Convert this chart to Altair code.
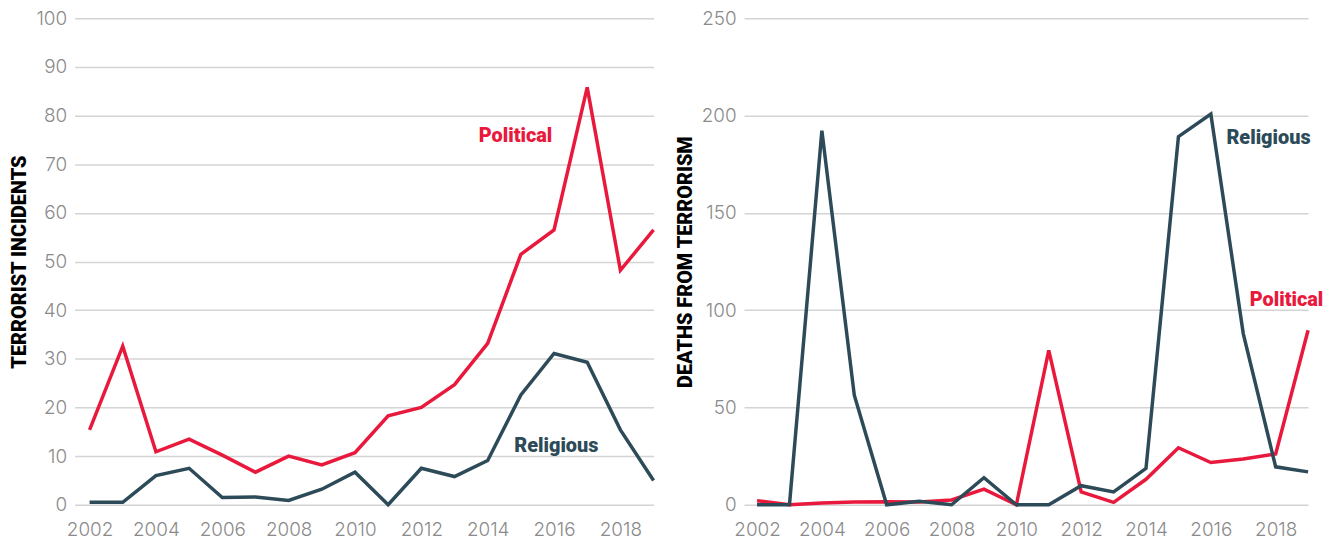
import altair as alt
import pandas as pd

years = list(range(2002, 2020))

incidents_political = [15.4, 32.6, 10.9, 13.5, 10.2, 6.7, 10.0, 8.2, 10.7, 18.3,
                       20.0, 24.7, 33.2, 51.5, 56.5, 85.8, 48.2, 56.5]
incidents_religious = [0.5, 0.5, 6.0, 7.5, 1.5, 1.6, 0.9, 3.2, 6.7, 0.0,
                       7.5, 5.8, 9.1, 22.6, 31.1, 29.3, 15.4, 5.0]

deaths_political = [2.1, 0.0, 0.9, 1.4, 1.6, 1.4, 2.5, 8.0, 0.0, 79.4,
                    6.6, 1.2, 13.1, 29.3, 21.7, 23.5, 26.1, 89.7]
deaths_religious = [0.0, 0.0, 192.3, 56.3, 0.0, 1.8, 0.0, 13.9, 0.0, 0.0,
                    9.8, 6.6, 18.7, 189.2, 200.8, 88.0, 19.5, 16.9]

series_names = ["Political", "Religious"]
series_colors = ["#E8193C", "#2C4A58"]

# label anchor points (left edge of text) in data units
left_labels = {"label": ["Political", "Religious"], "year": [2013.73, 2014.8], "value": [75.9, 12.1]}
right_labels = {"label": ["Religious", "Political"], "year": [2016.48, 2017.2], "value": [188.5, 105.3]}

LABEL_GREY = "#8A8A8A"


def panel(pol, rel, ymax, ystep, ytitle, xdomain, width, labels, title_pad):
    df = pd.DataFrame({
        "year": years * 2,
        "value": pol + rel,
        "series": ["Political"] * len(years) + ["Religious"] * len(years),
    })
    x = alt.X("year:Q",
              scale=alt.Scale(domain=xdomain, nice=False, zero=False),
              axis=alt.Axis(values=list(range(2002, 2019, 2)), format="d", grid=False,
                            domain=False, ticks=False, labelPadding=16, labelFontSize=19,
                            labelColor=LABEL_GREY, labelFont="Inter", labelFontWeight=300,
                            labelFlush=False, title=None))
    y = alt.Y("value:Q",
              scale=alt.Scale(domain=[0, ymax], nice=False),
              axis=alt.Axis(values=list(range(0, ymax + 1, ystep)), grid=True, domain=False,
                            ticks=False, labelPadding=8, labelFontSize=19,
                            labelColor=LABEL_GREY, labelFont="Inter", labelFontWeight=300,
                            gridColor="#D4D4D4", gridWidth=1.5,
                            title=ytitle, titleFont="Roboto", titleFontWeight=900,
                            titleFontSize=20, titleColor="#000000", titlePadding=title_pad))
    color = alt.Color("series:N", scale=alt.Scale(domain=series_names, range=series_colors),
                      legend=None)
    lines = alt.Chart(df).mark_line(strokeWidth=3.5, strokeJoin="miter").encode(
        x=x, y=y, color=color)

    ldf = pd.DataFrame(labels)
    ldf["series"] = ldf["label"]
    text = alt.Chart(ldf).mark_text(font="Roboto", fontWeight=900, fontSize=20,
                                    align="left", baseline="middle").encode(
        x=alt.X("year:Q"), y=alt.Y("value:Q"), text="label:N", color=color)
    return alt.layer(lines, text).properties(width=width, height=489)


left = panel(incidents_political, incidents_religious, 100, 10, "TERRORIST INCIDENTS",
             [2001.55, 2019], 582, left_labels, 6)
right = panel(deaths_political, deaths_religious, 250, 50, "DEATHS FROM TERRORISM",
              [2001.6, 2019], 567, right_labels, 6)

chart = alt.hconcat(left, right, spacing=14).properties(
    padding={"left": 2, "top": 0, "right": 0, "bottom": 0}).configure(
    background="white").configure_view(stroke=None)

chart.save("out.html", embed_options={"renderer": "svg", "actions": False})
